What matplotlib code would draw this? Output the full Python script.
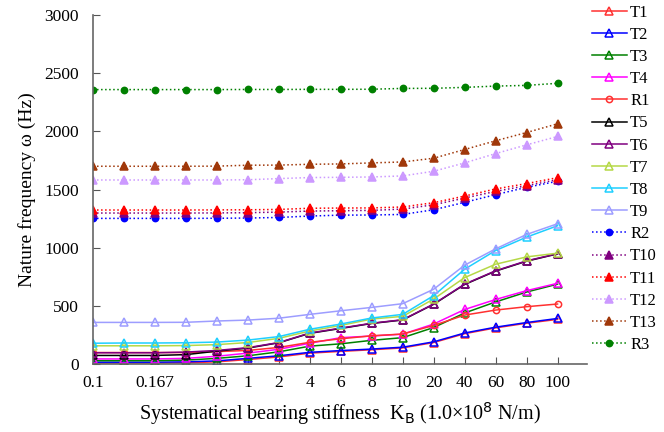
import matplotlib.pyplot as plt
import numpy as np

plt.rcParams['font.family'] = ['Liberation Serif', 'DejaVu Serif']

# x axis: systematical bearing stiffness (1.0e8 N/m), equally spaced categories
k_vals = [0.1, 0.125, 0.167, 0.25, 0.5, 1, 2, 4, 6, 8, 10, 20, 40, 60, 80, 100]
k_labels = ['0.1', '', '0.167', '', '0.5', '1', '2', '4', '6', '8', '10',
            '20', '40', '60', '80', '100']

# natural frequencies (Hz)
T1 = [10, 10, 10, 12, 20, 40, 62, 95, 110, 124, 140, 186, 262, 312, 352, 385]
T2 = [17, 17, 17, 20, 28, 50, 72, 102, 117, 130, 146, 192, 268, 318, 358, 393]
T3 = [30, 30, 30, 35, 50, 72, 106, 155, 175, 205, 228, 315, 440, 535, 620, 688]
T4 = [45, 45, 45, 50, 68, 95, 128, 180, 228, 242, 258, 345, 470, 556, 632, 695]
R1 = [100, 100, 100, 100, 108, 118, 144, 188, 218, 244, 259, 333, 422, 465, 494, 517]
T5 = [75, 75, 75, 82, 112, 138, 184, 265, 307, 350, 380, 515, 685, 800, 885, 948]
T6 = [98, 98, 98, 104, 118, 142, 186, 268, 310, 352, 382, 517, 688, 803, 888, 950]
T7 = [158, 158, 158, 160, 168, 186, 222, 285, 333, 388, 411, 560, 744, 859, 922, 954]
T8 = [180, 182, 182, 184, 190, 207, 237, 300, 345, 397, 428, 589, 816, 977, 1092, 1190]
T9 = [359, 359, 359, 360, 371, 379, 395, 428, 459, 488, 520, 644, 851, 991, 1115, 1207]
R2 = [1253, 1253, 1253, 1253, 1254, 1256, 1261, 1273, 1281, 1282, 1287, 1327, 1391, 1457, 1520, 1572]
T10 = [1299, 1299, 1299, 1299, 1300, 1302, 1307, 1316, 1319, 1322, 1333, 1370, 1428, 1485, 1534, 1586]
T11 = [1325, 1325, 1325, 1325, 1326, 1327, 1330, 1340, 1342, 1343, 1351, 1388, 1445, 1506, 1552, 1603]
T12 = [1583, 1583, 1583, 1583, 1583, 1585, 1595, 1604, 1606, 1609, 1618, 1658, 1730, 1810, 1885, 1957]
T13 = [1701, 1701, 1701, 1701, 1702, 1710, 1711, 1718, 1721, 1730, 1738, 1770, 1845, 1920, 1991, 2066]
R3 = [2360, 2360, 2360, 2360, 2360, 2361, 2361, 2362, 2362, 2363, 2370, 2371, 2379, 2390, 2396, 2414]

series = [
    ('T1', T1, '#FF3030', '^', '-', 'none'),
    ('T2', T2, '#0000FF', '^', '-', 'none'),
    ('T3', T3, '#008000', '^', '-', 'none'),
    ('T4', T4, '#FF00FF', '^', '-', 'none'),
    ('R1', R1, '#FF3030', 'o', '-', 'none'),
    ('T5', T5, '#000000', '^', '-', 'none'),
    ('T6', T6, '#800080', '^', '-', 'none'),
    ('T7', T7, '#B5D846', '^', '-', 'none'),
    ('T8', T8, '#1ECFFF', '^', '-', 'none'),
    ('T9', T9, '#9D9DFF', '^', '-', 'none'),
    ('R2', R2, '#0000FF', 'o', ':', 'full'),
    ('T10', T10, '#800080', '^', ':', 'full'),
    ('T11', T11, '#FF0000', '^', ':', 'full'),
    ('T12', T12, '#CC99FF', '^', ':', 'full'),
    ('T13', T13, '#A0380A', '^', ':', 'full'),
    ('R3', R3, '#008000', 'o', ':', 'full'),
]

fig = plt.figure(figsize=(6.64, 4.32), dpi=100)
ax = fig.add_axes([0.140, 0.157, 0.744, 0.808])

x = np.arange(len(k_vals))
for name, vals, col, mk, ls, fill in series:
    ax.plot(x, vals, color=col, linestyle=ls, linewidth=1.1, marker=mk,
            markersize=5.5 if mk == '^' else 4.5, fillstyle=fill,
            markerfacecolor='none' if fill == 'none' else col,
            markeredgecolor=col, markeredgewidth=1.1, label=name)

ax.set_xlim(0, 15.95)
ax.set_ylim(0, 3000)
ax.set_xticks(x)
ax.set_xticklabels(k_labels, fontsize=12.5)
ax.set_yticks(np.arange(0, 3001, 500))
ax.tick_params(axis='y', labelsize=12.5, direction='in', length=5, color='#555555', pad=10)
ax.tick_params(axis='x', direction='in', length=5, color='#555555', pad=8)
for s in ['top', 'right']:
    ax.spines[s].set_visible(False)
for s in ['left', 'bottom']:
    ax.spines[s].set_color('#666666')
    ax.spines[s].set_linewidth(1.2)

ax.set_ylabel('Nature frequency ω (Hz)', fontsize=14, labelpad=6)
ax.set_xlabel(r'Systematical bearing stiffness  K$_\mathrm{B}$ (1.0×10$^\mathrm{8}$ N/m)',
              fontsize=14.5, labelpad=6)

ax.legend(loc='upper left', bbox_to_anchor=(1.01, 1.03), frameon=False,
          fontsize=12, handlelength=2.1, labelspacing=0.37, handletextpad=0.2,
          borderaxespad=0, borderpad=0)

fig.savefig('out.png', dpi=100)
